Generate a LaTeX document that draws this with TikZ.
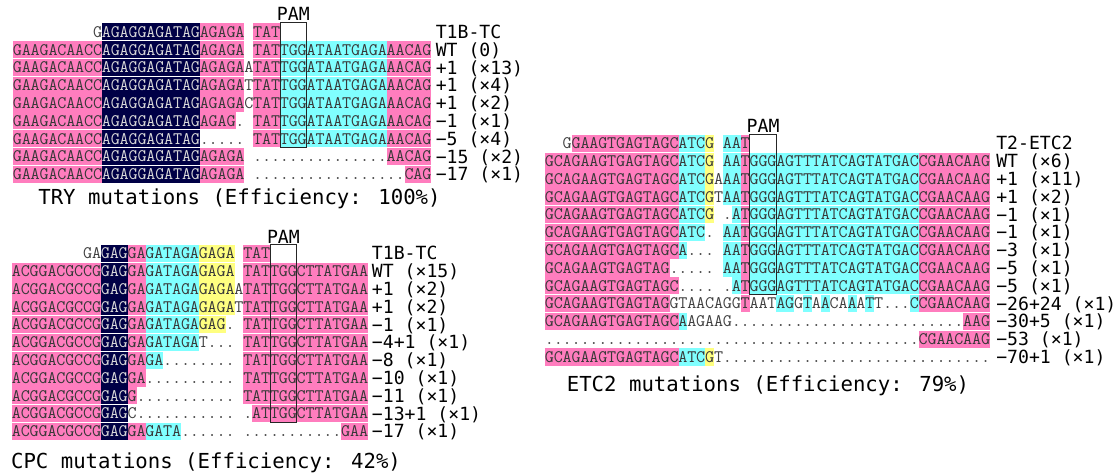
\documentclass[tikz,border=0pt]{standalone}
\usepackage{fontspec}
\newfontfamily\labmono{DejaVu Sans Mono}
\definecolor{seqpink}{RGB}{255,125,190}
\definecolor{seqcyan}{RGB}{128,255,255}
\definecolor{seqyellow}{RGB}{255,255,128}
\definecolor{seqnavy}{RGB}{0,0,70}
\newcommand{\seqfont}{\ttfamily\fontsize{13.2pt}{15pt}\selectfont}
\newcommand{\labfont}{\labmono\fontsize{13.6pt}{16pt}\selectfont}
\newcommand{\ttlfont}{\labmono\fontsize{15.5pt}{18pt}\selectfont}
\ExplSyntaxOn
\NewDocumentCommand{\cells}{m}{
  \tl_set:Nx \l_tmpa_tl {#1}
  \tl_map_inline:Nn \l_tmpa_tl { \makebox[6.675pt]{##1} }
}
\newcommand{\dotrun}[1]{\prg_replicate:nn{#1}{.}}
\ExplSyntaxOff
\newcommand{\sq}[4]{\node[seq,#3] (\pn-#1-#2) at ({(#2-1)*8.9},{#1*17.8}) {\cells{#4}};}
\tikzset{
  seq/.style={anchor=west,inner sep=0pt,outer sep=0pt,minimum height=12.9pt,
    text height=8.1pt,text depth=0pt,font=\seqfont,text=black!78},
  pk/.style={fill=seqpink},
  cy/.style={fill=seqcyan},
  yl/.style={fill=seqyellow},
  nv/.style={fill=seqnavy,text=white!85!black},
  wt/.style={text=black!75},
  lab/.style={anchor=west,inner sep=0pt,text height=9.9pt,text depth=0pt,font=\labfont},
  ttl/.style={inner sep=0pt,text height=11.3pt,text depth=0pt,font=\ttlfont},
  pam/.style={draw=black!85,line width=0.7pt}
}
\begin{document}
\begin{tikzpicture}[x=0.75pt,y=-0.75pt]
  \useasboundingbox (0,0) rectangle (1120,475);
  \begin{scope}[shift={(13,31.8)}]
    \def\pn{t}
    \sq{0}{10}{wt}{G} \sq{0}{11}{nv}{AGAGGAGATAG} \sq{0}{22}{pk}{AGAGA} \sq{0}{28}{pk}{TAT}
    \foreach \r in {1,...,8}{\sq{\r}{1}{pk}{GAAGACAACC} \sq{\r}{11}{nv}{AGAGGAGATAG}}
    \foreach \r in {1,...,6}{\sq{\r}{28}{pk}{TAT} \sq{\r}{31}{cy}{TGGATAATGAGA} \sq{\r}{43}{pk}{AACAG}}
    \foreach \r in {1,2,3,4,7,8}{\sq{\r}{22}{pk}{AGAGA}}
    \sq{2}{27}{wt}{A} \sq{3}{27}{wt}{T} \sq{4}{27}{wt}{C}
    \sq{5}{22}{pk}{AGAG} \sq{5}{26}{wt}{.}
    \sq{6}{22}{wt}{\dotrun{5}}
    \sq{7}{28}{wt}{\dotrun{15}} \sq{7}{43}{pk}{AACAG}
    \sq{8}{28}{wt}{\dotrun{17}} \sq{8}{45}{pk}{CAG}
    \draw[pam] (267,-8.9) rectangle (293.7,115.7);
    \node[lab,anchor=center] (t-pam) at (280.35,-17.8) {PAM};
    \foreach \r/\txt in {0/T1B-TC,1/WT (0),2/+1 (×13),3/+1 (×4),4/+1 (×2),5/−1 (×1),6/−5 (×4),7/−15 (×2),8/−17 (×1)}
      \node[lab] (t-l\r) at (422.5,\r*17.8) {\txt};
  \end{scope}
  \begin{scope}[shift={(12,253.3)}]
    \def\pn{c}
    \sq{0}{9}{wt}{GA} \sq{0}{11}{nv}{GAG} \sq{0}{14}{pk}{GA} \sq{0}{16}{cy}{GATAGA} \sq{0}{22}{yl}{GAGA} \sq{0}{27}{pk}{TAT}
    \foreach \r in {1,...,10}{\sq{\r}{1}{pk}{ACGGACGCCG} \sq{\r}{11}{nv}{GAG}}
    \foreach \r in {1,...,8}{\sq{\r}{27}{pk}{TATTGGCTTATGAA}}
    \foreach \r in {1,2,3,4,5,6,7,10}{\sq{\r}{14}{pk}{GA}}
    \foreach \r in {1,...,5}{\sq{\r}{16}{cy}{GATAGA}}
    \foreach \r in {1,2,3}{\sq{\r}{22}{yl}{GAGA}}
    \sq{2}{26}{wt}{A} \sq{3}{26}{wt}{T}
    \sq{4}{22}{yl}{GAG} \sq{4}{25}{wt}{.}
    \sq{5}{22}{wt}{T...}
    \sq{6}{16}{cy}{GA} \sq{6}{18}{wt}{\dotrun{8}}
    \sq{7}{16}{wt}{\dotrun{10}}
    \sq{8}{14}{pk}{G} \sq{8}{15}{wt}{\dotrun{11}}
    \sq{9}{14}{wt}{C\dotrun{11}} \sq{9}{27}{wt}{.} \sq{9}{28}{pk}{ATTGGCTTATGAA}
    \sq{10}{16}{cy}{GATA} \sq{10}{20}{wt}{\dotrun{6}} \sq{10}{27}{wt}{\dotrun{11}} \sq{10}{38}{pk}{GAA}
    \draw[pam] (258.1,-8.9) rectangle (284.8,169.1);
    \node[lab,anchor=center] (c-pam) at (271.45,-16.7) {PAM};
    \foreach \r/\txt in {0/T1B-TC,1/WT (×15),2/+1 (×2),3/+1 (×2),4/−1 (×1),5/−4+1 (×1),6/−8 (×1),7/−10 (×1),8/−11 (×1),9/−13+1 (×1),10/−17 (×1)}
      \node[lab] (c-l\r) at (359.7,\r*17.8) {\txt};
  \end{scope}
  \begin{scope}[shift={(545,143.3)}]
    \def\pn{e}
    \sq{0}{3}{wt}{G} \sq{0}{4}{pk}{GAAGTGAGTAGC} \sq{0}{16}{cy}{ATC} \sq{0}{19}{yl}{G} \sq{0}{21}{cy}{AA} \sq{0}{23}{pk}{T}
    \foreach \r in {1,2,3,4,5,6,8,10,12}{\sq{\r}{1}{pk}{GCAGAAGTGAGTAGC}}
    \foreach \r in {7,9}{\sq{\r}{1}{pk}{GCAGAAGTGAGTAG}}
    \foreach \r in {1,2,3,4,5,12}{\sq{\r}{16}{cy}{ATC}}
    \foreach \r in {1,2,3,4,12}{\sq{\r}{19}{yl}{G}}
    \foreach \r in {1,2,3,5,6,7}{\sq{\r}{21}{cy}{AA}}
    \foreach \r in {1,...,8}{\sq{\r}{23}{pk}{T} \sq{\r}{24}{cy}{GGGAGTTTATCAGTATGAC}}
    \foreach \r in {1,2,3,4,5,6,7,8,9,11}{\sq{\r}{43}{pk}{CGAACAAG}}
    \sq{2}{20}{wt}{A} \sq{3}{20}{wt}{T}
    \sq{4}{21}{wt}{.} \sq{4}{22}{cy}{A}
    \sq{5}{19}{wt}{.}
    \sq{6}{16}{cy}{A} \sq{6}{17}{wt}{...}
    \sq{7}{15}{wt}{\dotrun{5}}
    \sq{8}{16}{wt}{....} \sq{8}{21}{wt}{.} \sq{8}{22}{cy}{A}
    \sq{9}{15}{wt}{GTAACAGG} \sq{9}{23}{pk}{T} \sq{9}{24}{wt}{AAT} \sq{9}{27}{cy}{AG} \sq{9}{29}{wt}{G}
    \sq{9}{30}{cy}{T} \sq{9}{31}{wt}{A} \sq{9}{32}{cy}{A} \sq{9}{33}{wt}{CA} \sq{9}{35}{cy}{A}
    \sq{9}{36}{wt}{A} \sq{9}{37}{cy}{T} \sq{9}{38}{wt}{T...} \sq{9}{42}{cy}{C}
    \sq{10}{16}{cy}{A} \sq{10}{17}{wt}{AGAAG\dotrun{26}} \sq{10}{48}{pk}{AAG}
    \sq{11}{1}{wt}{\dotrun{42}}
    \sq{12}{20}{wt}{T\dotrun{30}}
    \draw[pam] (204.7,-8.9) rectangle (231.4,151.3);
    \node[lab,anchor=center] (e-pam) at (218.05,-17.3) {PAM};
    \foreach \r/\txt in {0/T2-ETC2,1/WT (×6),2/+1 (×11),3/+1 (×2),4/−1 (×1),5/−1 (×1),6/−3 (×1),7/−5 (×1),8/−5 (×1),9/−26+24 (×1),10/−30+5 (×1),11/−53 (×1),12/−70+1 (×1)}
      \node[lab] (e-l\r) at (451,\r*17.8) {\txt};
  \end{scope}
  \node[ttl] (try-ttl) at (239.5,197) {TRY mutations (Efficiency: 100\%)};
  \node[ttl] (cpc-ttl) at (206,461) {CPC mutations (Efficiency: 42\%)};
  \node[ttl] (etc-ttl) at (768,384) {ETC2 mutations (Efficiency: 79\%)};
\end{tikzpicture}
\end{document}
